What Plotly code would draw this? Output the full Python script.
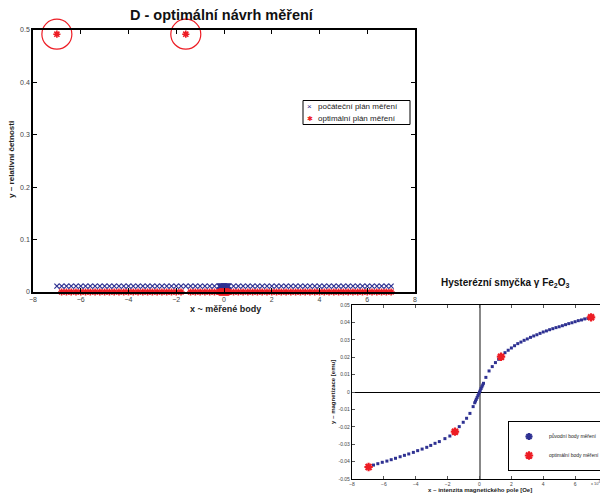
import plotly.graph_objects as go

# ---------------- Chart 1 data: D-optimal design ----------------
cand_left = [-7.0, -6.8, -6.6, -6.4, -6.2, -6.0, -5.8, -5.6, -5.4, -5.2, -5.0, -4.8,
             -4.6, -4.4, -4.2, -4.0, -3.8, -3.6, -3.4, -3.2, -3.0, -2.8, -2.6, -2.4,
             -2.2, -2.0, -1.8, -1.6, -1.4, -1.2, -1.0, -0.8, -0.6, -0.4]
cand_center = [-0.2, -0.18, -0.16, -0.14, -0.12, -0.1, -0.08, -0.06, -0.04, -0.02, 0.0,
               0.02, 0.04, 0.06, 0.08, 0.1, 0.12, 0.14, 0.16, 0.18, 0.2]
cand_right = [0.4, 0.6, 0.8, 1.0, 1.2, 1.4, 1.6, 1.8, 2.0, 2.2, 2.4, 2.6, 2.8, 3.0,
              3.2, 3.4, 3.6, 3.8, 4.0, 4.2, 4.4, 4.6, 4.8, 5.0, 5.2, 5.4, 5.6, 5.8,
              6.0, 6.2, 6.4, 6.6, 6.8, 7.0]
candidate_x = cand_left + cand_center + cand_right
initial_weight = 0.0112
optimal_x = [-7.0, -1.6]
optimal_w = [0.492, 0.492]
legend1_labels = ['počáteční plán měření', 'optimální plán měření']

# ---------------- Chart 2 data: hysteresis loop ----------------
hyst_x = [-6.96, -6.65, -6.38, -6.1, -5.81, -5.54, -5.27, -4.98, -4.71, -4.44, -4.15,
          -3.88, -3.6, -3.31, -3.06, -2.79, -2.52, -2.17, -1.86, -1.54, -1.27, -1.02,
          -0.81, -0.6, -0.4,
          -0.3, -0.25, -0.2, -0.15, -0.1, -0.05, 0.0, 0.05, 0.1, 0.15, 0.2, 0.25,
          0.4, 0.6, 0.8, 1.0, 1.2, 1.35, 1.6, 1.8, 2.0, 2.2, 2.4, 2.6, 2.8, 3.0, 3.2,
          3.4, 3.6, 3.8, 4.0, 4.2, 4.4, 4.6, 4.8, 5.0, 5.2, 5.4, 5.6, 5.8, 6.0, 6.2,
          6.4, 6.6, 6.8, 7.0]
hyst_y = [-0.0431, -0.0420, -0.0412, -0.0404, -0.0397, -0.0389, -0.0381, -0.0372,
          -0.0364, -0.0356, -0.0347, -0.0337, -0.0328, -0.0318, -0.0307, -0.0295,
          -0.0285, -0.0268, -0.0253, -0.0228, -0.0199, -0.0174, -0.0151, -0.0123,
          -0.0084,
          -0.0062, -0.0052, -0.0042, -0.0032, -0.0021, -0.0011, 0.0, 0.0010, 0.0020,
          0.0030, 0.0040, 0.0050,
          0.0084, 0.0121, 0.0146, 0.0169, 0.0188, 0.0203, 0.0226, 0.0240, 0.0253,
          0.0266, 0.0278, 0.0287, 0.0297, 0.0305, 0.0314, 0.0322, 0.0329, 0.0337,
          0.0345, 0.0351, 0.0358, 0.0364, 0.0370, 0.0375, 0.0381, 0.0387, 0.0393,
          0.0398, 0.0404, 0.0410, 0.0414, 0.0420, 0.0423, 0.0429]
hyst_opt_x = [-6.96, -1.54, 1.35, 7.0]
hyst_opt_y = [-0.0431, -0.0228, 0.0203, 0.0429]

chart2_xticks = [-8, -6, -4, -2, 0, 2, 4, 6, 8]
chart2_yticks = [-0.05, -0.04, -0.03, -0.02, -0.01, 0, 0.01, 0.02, 0.03, 0.04, 0.05]
chart2_yticktext = ['-0.05', '-0.04', '-0.03', '-0.02', '-0.01', '0', '0.01', '0.02',
                    '0.03', '0.04', '0.05']

BLUE = '#2e3192'
RED = '#ed1c24'
FONT = 'Arial, Liberation Sans, Helvetica, sans-serif'
W, H, OFF = 608, 495, 8   # page body margin offsets the plot by 8px


def PX(p):
    return (p - OFF) / W


def PY(p):
    return (H - (p - OFF)) / H


fig = go.Figure()

# Chart 1 traces
fig.add_trace(go.Scatter(
    x=candidate_x, y=[initial_weight] * len(candidate_x), mode='markers',
    name=legend1_labels[0], showlegend=False,
    marker=dict(symbol='x-thin-open', size=5, color=BLUE, line=dict(color=BLUE, width=1.2)),
    xaxis='x', yaxis='y', cliponaxis=False))
zero_x = [v for v in candidate_x if v not in optimal_x]
fig.add_trace(go.Scatter(
    x=zero_x, y=[0] * len(zero_x), mode='markers', name=legend1_labels[1],
    showlegend=False,
    marker=dict(symbol='asterisk-open', size=6, color=RED, line=dict(color=RED, width=1.6)),
    xaxis='x', yaxis='y', cliponaxis=False))
fig.add_trace(go.Scatter(
    x=optimal_x, y=optimal_w, mode='markers', name=legend1_labels[1], showlegend=False,
    marker=dict(symbol='asterisk-open', size=6, color=RED, line=dict(color=RED, width=1.6)),
    xaxis='x', yaxis='y', cliponaxis=False))
fig.add_trace(go.Scatter(
    x=optimal_x, y=optimal_w, mode='markers', showlegend=False, hoverinfo='skip',
    marker=dict(symbol='circle-open', size=30, color=RED, line=dict(color=RED, width=1.2)),
    xaxis='x', yaxis='y', cliponaxis=False))

# Chart 2 traces
fig.add_trace(go.Scatter(
    x=hyst_x, y=hyst_y, mode='markers', name='původní body měření', showlegend=False,
    marker=dict(symbol='square', size=3, color=BLUE),
    xaxis='x2', yaxis='y2', cliponaxis=False))
fig.add_trace(go.Scatter(
    x=[None], y=[None], mode='markers', name='původní body měření', legend='legend2',
    marker=dict(symbol='asterisk-open', size=6, color=BLUE, line=dict(color=BLUE, width=2)),
    xaxis='x2', yaxis='y2'))
fig.add_trace(go.Scatter(
    x=hyst_opt_x, y=hyst_opt_y, mode='markers', name='optimální body měření',
    legend='legend2',
    marker=dict(symbol='asterisk-open', size=7, color=RED, line=dict(color=RED, width=2.2)),
    xaxis='x2', yaxis='y2', cliponaxis=False))

axis_common = dict(showline=True, linecolor='black', mirror='ticks', ticks='inside',
                   tickcolor='black', showgrid=False, zeroline=False, automargin=False)

fig.update_layout(
    width=W, height=H, margin=dict(l=0, r=0, t=0, b=0),
    paper_bgcolor='white', plot_bgcolor='white',
    font=dict(family=FONT, color='#333'),
    xaxis=dict(domain=[PX(33), PX(415)], range=[-8, 8], dtick=2, tick0=0,
               ticklen=4, linewidth=1.5, tickfont=dict(size=7, color='#444'),
               anchor='y', **axis_common),
    yaxis=dict(domain=[PY(292), PY(30)], range=[0, 0.5], dtick=0.1,
               ticklen=4, linewidth=1.5, tickfont=dict(size=7, color='#444'),
               anchor='x', **axis_common),
    xaxis2=dict(domain=[PX(352), PX(607)], range=[-8, 8], tickvals=chart2_xticks,
                ticklen=3, linewidth=1.2, tickfont=dict(size=5, color='#444'),
                anchor='y2', showline=True, linecolor='black', mirror='ticks',
                ticks='inside', tickcolor='#555', showgrid=False, automargin=False,
                zeroline=True, zerolinecolor='#888', zerolinewidth=1.5),
    yaxis2=dict(domain=[PY(479), PY(305)], range=[-0.05, 0.05],
                tickvals=chart2_yticks, ticktext=chart2_yticktext,
                ticklen=3, linewidth=1.2, tickfont=dict(size=5, color='#444'),
                anchor='x2', showline=True, linecolor='black', mirror='ticks',
                ticks='inside', tickcolor='#555', showgrid=False, automargin=False,
                zeroline=True, zerolinecolor='black', zerolinewidth=1),
    legend2=dict(x=PX(508), y=PY(421), xanchor='left', yanchor='top',
                 bgcolor='white', bordercolor='black', borderwidth=1,
                 font=dict(size=5, family=FONT, color='#222'), tracegroupgap=0,
                 itemwidth=30),
    showlegend=True,
)

# custom compact legend box for chart 1
fig.add_shape(type='rect', xref='paper', yref='paper',
              x0=PX(303), x1=PX(410), y0=PY(124.5), y1=PY(100.5),
              line=dict(color='black', width=1), fillcolor='white', layer='above')

annotations = [
    dict(text='<b>D - optimální návrh měření</b>', x=PX(222), y=PY(15),
         font=dict(size=14.5, color='#111')),
    dict(text='<b>x ~ měřené body</b>', x=PX(225), y=PY(309),
         font=dict(size=9, color='#222')),
    dict(text='<b>y ~ relativní četnosti</b>', x=PX(11), y=PY(160),
         textangle=-90, font=dict(size=8, color='#222')),
    dict(text='<b>Hysterézní smyčka γ Fe<sub>2</sub>O<sub>3</sub></b>', x=PX(505),
         y=PY(283), font=dict(size=10, color='#111')),
    dict(text='<b>x ~ intenzita magnetického pole [Oe]</b>', x=PX(480),
         y=PY(490), font=dict(size=6, color='#222')),
    dict(text='<b>y ~ magnetizace [emu]</b>', x=PX(333), y=PY(392),
         textangle=-90, font=dict(size=6, color='#222')),
    dict(text='x 10<sup>4</sup>', x=PX(596), y=PY(483),
         font=dict(size=4, color='#444')),
    dict(text='×', x=PX(309.5), y=PY(106.8), font=dict(size=8, color=BLUE)),
    dict(text='✱', x=PX(309.5), y=PY(118), font=dict(size=7, color=RED)),
    dict(text=legend1_labels[0], x=PX(316), y=PY(106.8), xanchor='left',
         font=dict(size=8, color='#222')),
    dict(text=legend1_labels[1], x=PX(316), y=PY(118), xanchor='left',
         font=dict(size=8, color='#222')),
]
for a in annotations:
    a.setdefault('xanchor', 'center')
    a.update(xref='paper', yref='paper', showarrow=False, yanchor='middle',
             font=dict(family=FONT, **a['font']))
fig.update_layout(annotations=annotations)

fig.write_html('out.html')
